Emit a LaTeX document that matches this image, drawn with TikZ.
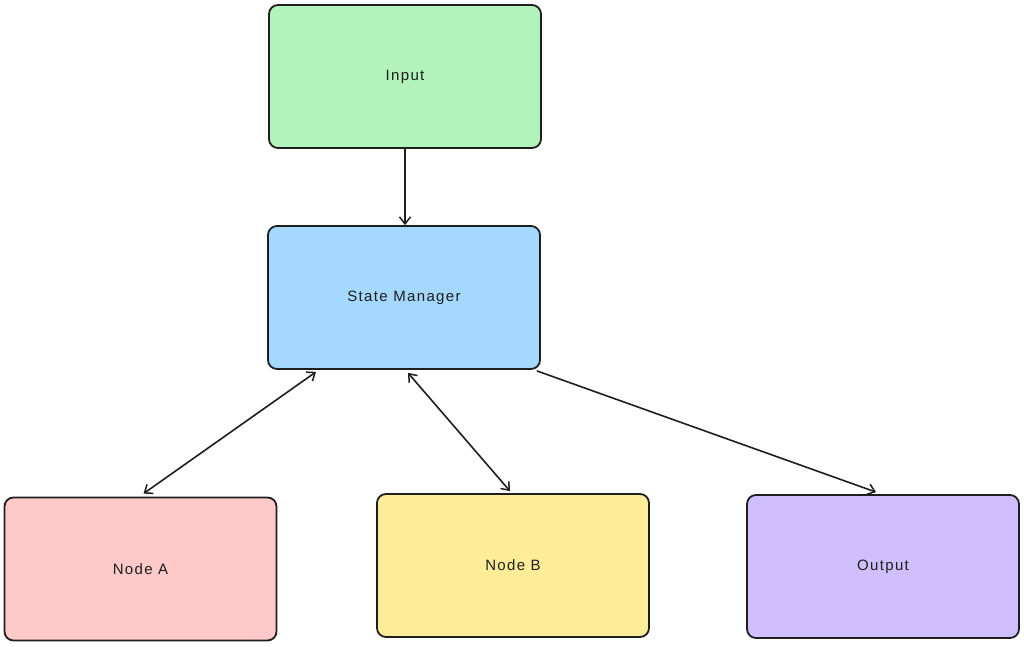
\documentclass[tikz,border=0pt]{standalone}
\usepackage{fontspec}
\setmainfont{Liberation Sans}[LetterSpace=9]
\usetikzlibrary{arrows.meta}
\definecolor{ink}{HTML}{1E1E1E}
\definecolor{cgreen}{HTML}{B2F2BB}
\definecolor{cblue}{HTML}{A5D8FF}
\definecolor{cred}{HTML}{FFC9C9}
\definecolor{cyellow}{HTML}{FFEC99}
\definecolor{cpurple}{HTML}{D0BFFF}
\tikzset{
  box/.style={draw=ink, line width=1.8pt, rounded corners=9pt, minimum width=272pt, minimum height=143pt, inner sep=0pt, font=\fontsize{15}{17}\selectfont, text=ink},
  conn/.style={draw=ink, line width=1.6pt, -{Straight Barb[length=7pt,width=11pt,line width=1.5pt]}},
  biconn/.style={draw=ink, line width=1.6pt, {Straight Barb[length=7pt,width=11pt,line width=1.5pt]}-{Straight Barb[length=7pt,width=11pt,line width=1.5pt]}}
}
\begin{document}
\begin{tikzpicture}[x=1pt,y=-1pt]
\useasboundingbox (0,0) rectangle (1024,646);
\node[box, fill=cgreen] (input) at (405,76.5) {Input};
\node[box, fill=cblue] (state) at (404,297.5) {State Manager};
\node[box, fill=cred] (nodea) at (140.5,569) {Node A};
\node[box, fill=cyellow] (nodeb) at (513,565.5) {Node B};
\node[box, fill=cpurple] (output) at (883,566.5) {Output};
\draw[conn] (input.south) -- (input.south |- state.north);
\draw[biconn] ([xshift=-88pt,yshift=-2pt]state.south) -- ([xshift=3pt,yshift=3pt]nodea.north);
\draw[biconn] ([xshift=4pt,yshift=-3pt]state.south) -- ([xshift=-3pt,yshift=2pt]nodeb.north);
\draw[conn] ([xshift=-4pt,yshift=-1pt]state.south east) -- ([xshift=-7pt,yshift=2pt]output.north);
\end{tikzpicture}
\end{document}
